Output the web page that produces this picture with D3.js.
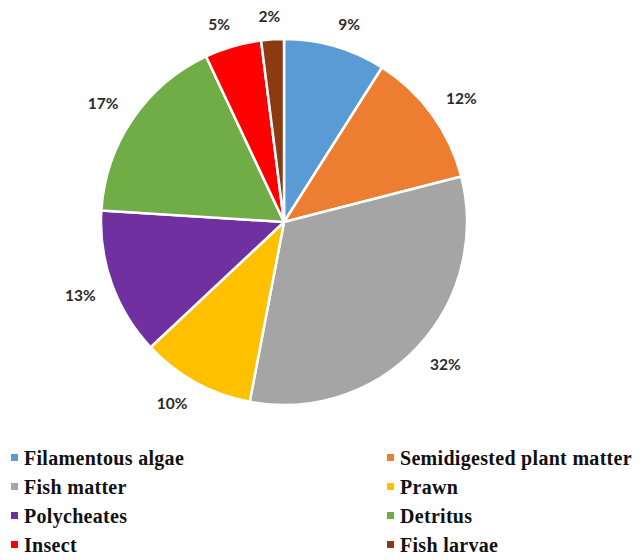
<!DOCTYPE html>
<html>
<head>
<meta charset="utf-8">
<script src="https://cdn.jsdelivr.net/npm/d3@7"></script>
<style>
  html, body { margin: 0; padding: 0; background: #fff; }
  svg { display: block; }
</style>
</head>
<body>
<svg id="chart" width="643" height="560"></svg>
<script>
// Diet composition (% of stomach contents)
const categories = ["Filamentous algae", "Semidigested plant matter", "Fish matter", "Prawn",
                    "Polycheates", "Detritus", "Insect", "Fish larvae"];
const values = [9, 12, 32, 10, 13, 17, 5, 2];
const colors = ["#5B9BD5", "#ED7D31", "#A5A5A5", "#FFC000", "#7030A0", "#70AD47", "#FF0000", "#8B3A12"];

const svg = d3.select("#chart");
const cx = 284, cy = 222, r = 183;
const anchorR = 200;      // radius of the point each label box hangs from
const labelHalfH = 6;     // half the cap height of the percentage labels

const data = categories.map((c, i) => ({ name: c, value: values[i], color: colors[i] }));

const pie = d3.pie().value(d => d.value).sort(null);
const arc = d3.arc().innerRadius(0).outerRadius(r);

const g = svg.append("g").attr("transform", `translate(${cx},${cy})`);
const arcs = pie(data);

g.selectAll("path.slice")
  .data(arcs)
  .join("path")
  .attr("class", "slice")
  .attr("d", arc)
  .attr("fill", d => d.data.color)
  .attr("stroke", "#fff")
  .attr("stroke-width", 2.5)
  .attr("stroke-linejoin", "round");

// Outside-end labels: the box corner facing the pie sits on an anchor point
// beyond the rim along the slice's mid angle (blended near the axes)
const labels = g.selectAll("text.pct")
  .data(arcs)
  .join("text")
  .attr("class", "pct")
  .attr("text-anchor", "middle")
  .attr("dy", "0.36em")
  .attr("font-family", "Lato, 'Liberation Sans', sans-serif")
  .attr("font-weight", "bold")
  .attr("font-size", 15.5)
  .attr("fill", "#2b2b2b")
  .text(d => d.data.value + "%");

const clamp1 = v => Math.max(-1, Math.min(1, v));
labels.each(function(d) {
  const w = this.getBBox().width;
  const a = (d.startAngle + d.endAngle) / 2;
  const ux = Math.sin(a), uy = -Math.cos(a);
  const x = ux * anchorR + clamp1(ux * 3) * w / 2;
  const y = uy * anchorR + clamp1(uy * 3) * labelHalfH;
  d3.select(this).attr("x", x).attr("y", y);
});

// Legend: two columns, four rows
const colX = [11, 387];
const rowY = d3.scaleLinear().domain([0, 3]).range([465, 552]);

const legend = svg.append("g");
const items = legend.selectAll("g.item")
  .data(data)
  .join("g")
  .attr("class", "item")
  .attr("transform", (d, i) => `translate(${colX[i % 2]},${rowY(Math.floor(i / 2))})`);

items.append("rect")
  .attr("x", 0).attr("y", -11)
  .attr("width", 7).attr("height", 7)
  .attr("fill", d => d.color);

items.append("text")
  .attr("x", 13).attr("y", 0)
  .attr("font-family", "'Liberation Serif', 'Times New Roman', serif")
  .attr("font-weight", "bold")
  .attr("font-size", 20)
  .attr("letter-spacing", 0.3)
  .attr("fill", "#111")
  .text(d => d.name);
</script>
</body>
</html>
